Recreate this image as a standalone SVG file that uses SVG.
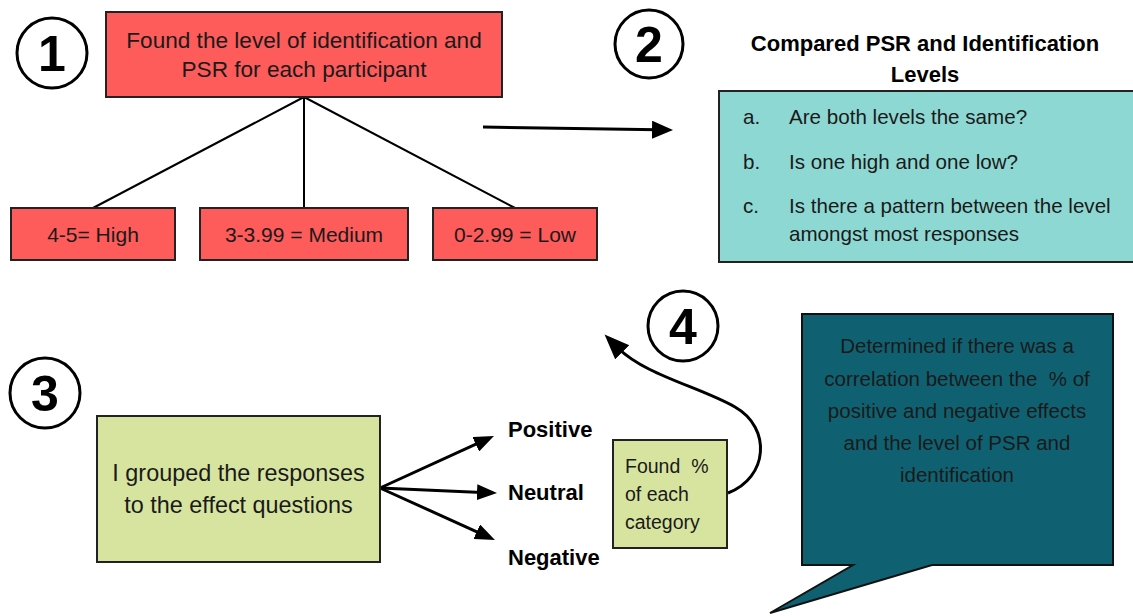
<svg xmlns="http://www.w3.org/2000/svg" width="1133" height="616" viewBox="0 0 1133 616">
<style>
text{font-family:"Liberation Sans",Arial,sans-serif;fill:#1a1a1a}
.num{font-size:50px;font-weight:bold;text-anchor:middle;fill:#000}
.circ{fill:#fff;stroke:#000;stroke-width:3}
.red{fill:#fe5b5b;stroke:#222;stroke-width:2}
.teal{fill:#8ed8d3;stroke:#222;stroke-width:2}
.green{fill:#d7e4a0;stroke:#222;stroke-width:2}
.bubble{fill:#0f6171;stroke:#111;stroke-width:2}
.c{text-anchor:middle}
.ln{stroke:#000;stroke-width:2;fill:none}
.arr{stroke:#000;stroke-width:3;fill:none}
.b{font-weight:bold;fill:#000}
</style>
<defs>
<marker id="ah" markerUnits="userSpaceOnUse" markerWidth="22" markerHeight="18" refX="6" refY="9" orient="auto"><path d="M0,0 L21,9 L0,18 z" fill="#000"/></marker>
<marker id="ah2" markerUnits="userSpaceOnUse" markerWidth="20" markerHeight="16" refX="5" refY="8" orient="auto"><path d="M0,0 L20,8 L0,16 z" fill="#000"/></marker>
<marker id="ah3" markerUnits="userSpaceOnUse" markerWidth="26" markerHeight="22" refX="6" refY="10" orient="auto"><path d="M0,0 L25,10 L0,20 z" fill="#000"/></marker>
</defs>

<g id="connectors">
<path class="ln" d="M304,97 L93,208 M304,97 L304,208 M304,97 L515,208"/>
<path class="arr" d="M483,127 L658,129.8" marker-end="url(#ah)"/>
<path class="arr" d="M380,488 L480.3,442.2" marker-end="url(#ah2)"/>
<path class="arr" d="M380,488 L482,492.4" marker-end="url(#ah2)"/>
<path class="arr" d="M380,488 L481.3,533.8" marker-end="url(#ah2)"/>
<path class="arr" d="M728,493 C768,478 772,428 735,407 C700,387 645,375 618,348" marker-end="url(#ah3)"/>
</g>

<g id="step1">
<circle class="circ" cx="52" cy="53" r="35"/>
<text class="num" x="52" y="71">1</text>
</g>
<g id="step2">
<circle class="circ" cx="649" cy="44" r="34"/>
<text class="num" x="649" y="62">2</text>
</g>
<g id="step3">
<circle class="circ" cx="45" cy="393" r="35"/>
<text class="num" x="45" y="411">3</text>
</g>
<g id="step4">
<circle class="circ" cx="683" cy="326" r="35"/>
<text class="num" x="683" y="344">4</text>
</g>

<g id="found-level">
<rect class="red" x="106" y="12" width="396" height="85"/>
<text class="c" x="304" y="48" font-size="22.6">Found the level of identification and</text>
<text class="c" x="304" y="77" font-size="22.6">PSR for each participant</text>
</g>
<g id="high">
<rect class="red" x="11" y="208" width="164" height="52"/>
<text class="c" x="93" y="242" font-size="21">4-5= High</text>
</g>
<g id="medium">
<rect class="red" x="200" y="208" width="208" height="52"/>
<text class="c" x="304" y="242" font-size="21">3-3.99 = Medium</text>
</g>
<g id="low">
<rect class="red" x="433" y="208" width="164" height="52"/>
<text class="c" x="515" y="242" font-size="21">0-2.99 = Low</text>
</g>

<g id="compared">
<text class="c b" x="925" y="51" font-size="22">Compared PSR and Identification</text>
<text class="c b" x="925" y="82" font-size="22">Levels</text>
<rect class="teal" x="719" y="91" width="430" height="171"/>
<text x="743" y="124" font-size="20.6">a.</text>
<text x="789" y="124" font-size="20.6">Are both levels the same?</text>
<text x="743" y="169" font-size="20.6">b.</text>
<text x="789" y="169" font-size="20.6">Is one high and one low?</text>
<text x="743" y="213" font-size="20.6">c.</text>
<text x="789" y="213" font-size="20.6">Is there a pattern between the level</text>
<text x="789" y="241" font-size="20.6">amongst most responses</text>
</g>

<g id="grouped">
<rect class="green" x="97" y="416" width="283" height="146"/>
<text class="c" x="238.5" y="481" font-size="23.4">I grouped the responses</text>
<text class="c" x="238.5" y="513" font-size="23.4">to the effect questions</text>
</g>
<g id="positive"><text class="b" x="508" y="437" font-size="22">Positive</text></g>
<g id="neutral"><text class="b" x="508" y="500" font-size="22">Neutral</text></g>
<g id="negative"><text class="b" x="508" y="565" font-size="22">Negative</text></g>

<g id="found-pct">
<rect class="green" x="613" y="440" width="114" height="108"/>
<text x="625" y="473" font-size="19.5" style="white-space:pre">Found  %</text>
<text x="625" y="501" font-size="19.5">of each</text>
<text x="625" y="529" font-size="19.5">category</text>
</g>

<g id="determined">
<polygon class="bubble" points="802,314 1113,314 1113,565 932,565 770,613 853,565 802,565"/>
<text class="c" x="957" y="353" font-size="20.5" fill="#0a1a20">Determined if there was a</text>
<text class="c" x="957" y="386" font-size="20.5" style="white-space:pre">correlation between the  % of</text>
<text class="c" x="957" y="418" font-size="20.5">positive and negative effects</text>
<text class="c" x="957" y="450" font-size="20.5">and the level of PSR and</text>
<text class="c" x="957" y="482" font-size="20.5">identification</text>
</g>
</svg>
